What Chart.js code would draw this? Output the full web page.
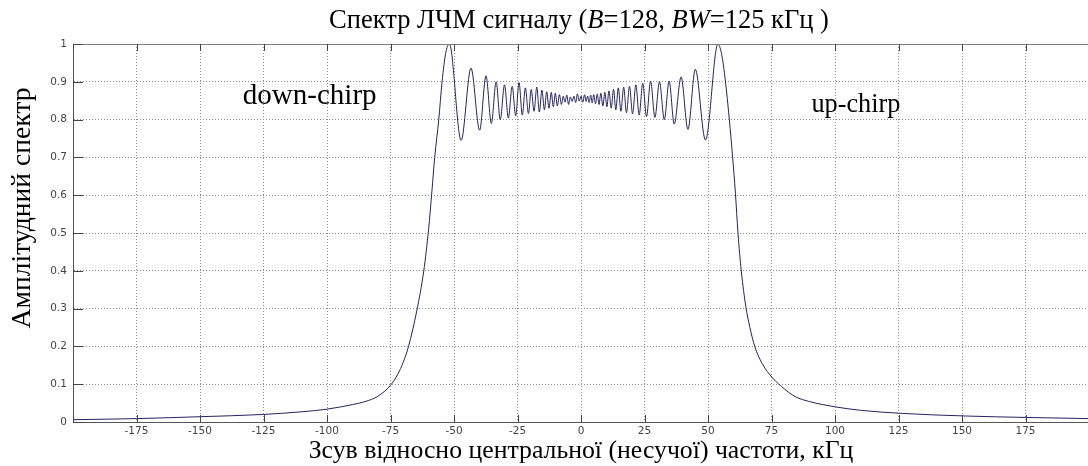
<!DOCTYPE html>
<html><head><meta charset="utf-8">
<script src="https://cdn.jsdelivr.net/npm/chart.js@4"></script>
<style>
html,body{margin:0;padding:0;background:#fff;overflow:hidden}
#wrap{width:1092px;height:466px;position:relative}
</style>
</head><body><div id="wrap"><canvas id="c"></canvas></div>
<script>
// ---- data (kHz offset, normalised amplitude) ----
const freqKHz = [
  -200,-175,-150,-125,-110,-100,-90,-85,-80,-75,-72,-70,-67.9,-64.6,-61.9,-60,-58.7,-57.6,-56,-54.7,-53.3,-51.8,
  -47.2,-43.3,-39.9,-37.4,-35.3,-33.4,-31.8,-30.1,-28.6,-27.1,-25.7,-24.4,-23.1,-21.9,-20.7,-19.6,-18.5,-17.4,-16.4,-15.4,
  -14.4,-13.5,-12.6,-11.7,-10.9,-10.1,-9.3,-8.5,-7.7,-7.0,-6.3,-5.6,-4.9,-4.2,-3.5,-2.8,-2.1,-1.4,-0.7,0.0,
  0.7,1.4,2.0,2.6,3.2,3.8,4.4,5.0,5.7,6.4,7.1,7.8,8.6,9.4,10.2,11.0,11.9,12.8,13.7,14.7,
  15.7,16.8,17.9,19.1,20.3,21.6,22.9,24.3,25.8,27.4,29.1,30.9,32.8,34.7,36.7,39.4,42.1,45.0,49.0,53.9,
  55.3,56.8,58.4,59.7,60.8,61.8,63.1,64.9,66.5,68.4,71.3,75.5,80,84.4,90,100.2,110,125.8,150.7,175.5,200
];
const amplitude = [
  0.006,0.009,0.014,0.020,0.027,0.034,0.046,0.054,0.068,0.097,0.128,0.158,0.20,0.296,0.40,0.51,0.61,0.70,0.80,0.90,0.975,1.0,
  0.745,0.936,0.772,0.916,0.790,0.900,0.800,0.892,0.804,0.888,0.810,0.898,0.812,0.884,0.816,0.880,0.822,0.886,0.820,0.878,
  0.826,0.874,0.830,0.872,0.834,0.870,0.836,0.866,0.840,0.862,0.846,0.865,0.840,0.860,0.848,0.862,0.845,0.868,0.849,0.862,
  0.846,0.866,0.848,0.862,0.845,0.865,0.844,0.866,0.842,0.868,0.840,0.870,0.836,0.872,0.834,0.876,0.830,0.880,0.826,0.884,
  0.822,0.886,0.818,0.888,0.815,0.892,0.812,0.896,0.808,0.902,0.806,0.900,0.800,0.902,0.788,0.913,0.774,0.933,0.746,1.0,
  0.975,0.905,0.80,0.70,0.605,0.50,0.40,0.305,0.25,0.20,0.155,0.116,0.088,0.067,0.054,0.040,0.031,0.023,0.016,0.012,0.009
];
const xTickLabels = ['','-175','-150','-125','-100','-75','-50','-25','0','25','50','75','100','125','150','175',''];
const yTickLabels = ['0','0.1','0.2','0.3','0.4','0.5','0.6','0.7','0.8','0.9','1'];
const titleParts = [['Спектр ЛЧМ сигналу (', false], ['B', true], ['=128, ', false], ['BW', true], ['=125 кГц )', false]];
const xAxisTitle = 'Зсув відносно центральної (несучої) частоти, кГц';
const yAxisTitle = 'Амплітудний спектр';
const labelDown = 'down-chirp';
const labelUp = 'up-chirp';

// ---- drawing helpers ----
const SERIF = '"Liberation Serif","Times New Roman",serif';
function partsWidth(ctx, parts, size) {
  let w = 0;
  for (const [t, it] of parts) { ctx.font = (it ? 'italic ' : '') + size + 'px ' + SERIF; w += ctx.measureText(t).width; }
  return w;
}
function drawParts(ctx, parts, size, x, y) {
  for (const [t, it] of parts) { ctx.font = (it ? 'italic ' : '') + size + 'px ' + SERIF; ctx.fillText(t, x, y); x += ctx.measureText(t).width; }
}
function fitSize(ctx, parts, target) { return 100 * target / partsWidth(ctx, parts, 100); }

const decorPlugin = {
  id: 'decor',
  afterDatasetsDraw(chart) {
    const ctx = chart.ctx, a = chart.chartArea, xs = chart.scales.x, ys = chart.scales.y;
    ctx.save();
    ctx.lineWidth = 1;
    ctx.strokeStyle = '#808080';
    ctx.beginPath(); ctx.moveTo(a.left, a.top + 0.5); ctx.lineTo(a.right, a.top + 0.5); ctx.stroke();
    ctx.strokeStyle = '#444';
    ctx.beginPath();
    xs.ticks.forEach(t => {
      const px = Math.round(xs.getPixelForValue(t.value)) + 0.5;
      ctx.moveTo(px, a.bottom); ctx.lineTo(px, a.bottom - 7);
      ctx.moveTo(px, a.top); ctx.lineTo(px, a.top + 7);
    });
    ys.ticks.forEach(t => {
      const py = Math.round(ys.getPixelForValue(t.value)) + 0.5;
      ctx.moveTo(a.left, py); ctx.lineTo(a.left + 10, py);
    });
    ctx.stroke();
    ctx.restore();
  },
  afterDraw(chart) {
    const ctx = chart.ctx, a = chart.chartArea, xs = chart.scales.x, ys = chart.scales.y;
    ctx.save();
    ctx.fillStyle = '#000';
    ctx.textAlign = 'left';
    ctx.textBaseline = 'alphabetic';
    const cx = (a.left + a.right) / 2;
    let s = fitSize(ctx, titleParts, 500);
    let w = partsWidth(ctx, titleParts, s);
    drawParts(ctx, titleParts, s, cx - 2 - w / 2, 27.5);
    const xp = [[xAxisTitle, false]];
    s = fitSize(ctx, xp, 545);
    w = partsWidth(ctx, xp, s);
    drawParts(ctx, xp, s, cx - w / 2, 457.5);
    const yp = [[yAxisTitle, false]];
    s = fitSize(ctx, yp, 241);
    ctx.save();
    ctx.translate(30, 208);
    ctx.rotate(-Math.PI / 2);
    ctx.font = s + 'px ' + SERIF;
    ctx.textAlign = 'center';
    ctx.fillText(yAxisTitle, 0, 0);
    ctx.restore();
    const dp = [[labelDown, false]];
    s = fitSize(ctx, dp, 134);
    drawParts(ctx, dp, s, xs.getPixelForValue(-133.2), ys.getPixelForValue(0.841));
    const up = [[labelUp, false]];
    s = fitSize(ctx, up, 89);
    drawParts(ctx, up, s, xs.getPixelForValue(90.7), ys.getPixelForValue(0.82));
    ctx.restore();
  }
};

const tickFont = { family: '"DejaVu Sans", sans-serif', size: 10.5 };

new Chart(document.getElementById('c'), {
  type: 'line',
  data: {
    datasets: [{
      data: freqKHz.map((f, i) => ({ x: f, y: amplitude[i] })),
      borderColor: '#23235f',
      borderWidth: 1,
      pointRadius: 0,
      fill: false,
      cubicInterpolationMode: 'monotone'
    }]
  },
  options: {
    responsive: true,
    maintainAspectRatio: false,
    animation: false,
    events: [],
    layout: { padding: { top: 44, left: 0, right: 0, bottom: 0 } },
    plugins: { legend: { display: false }, tooltip: { enabled: false }, title: { display: false } },
    scales: {
      x: {
        type: 'linear', min: -200, max: 200,
        afterFit: sc => { sc.height = 44; },
        ticks: { stepSize: 25, autoSkip: false, maxRotation: 0, padding: 3, color: '#444', font: tickFont,
                 callback: (v, i) => xTickLabels[i] },
        grid: { color: '#8c8c8c', lineWidth: 1, drawTicks: false },
        border: { display: true, color: '#555', width: 1, dash: [1, 2] }
      },
      y: {
        type: 'linear', min: 0, max: 1,
        afterFit: sc => { sc.width = 73; },
        ticks: { stepSize: 0.1, autoSkip: false, padding: 6, color: '#444', font: tickFont,
                 callback: (v, i) => yTickLabels[i] },
        grid: { color: '#8c8c8c', lineWidth: 1, drawTicks: false },
        border: { display: true, color: '#555', width: 1, dash: [1, 2] }
      }
    }
  },
  plugins: [decorPlugin]
});
</script>
</body></html>
